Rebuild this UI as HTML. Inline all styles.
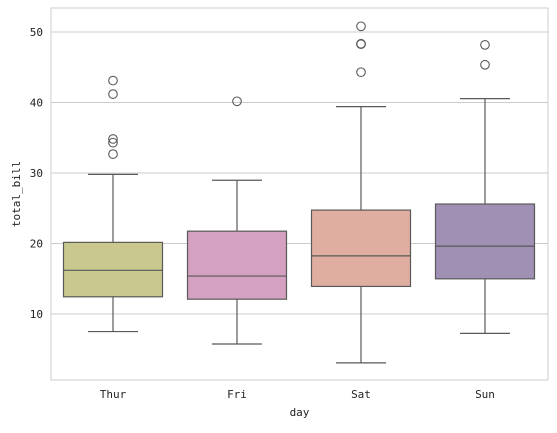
<!DOCTYPE html>
<html><head><meta charset="utf-8"><style>
body{margin:0;background:#fff}
svg text{font-family:"DejaVu Sans Mono","Liberation Mono",monospace;font-size:11px;fill:#222}
</style></head><body>
<svg id="chart" width="557" height="428"></svg>
<script>
const categories=["Thur","Fri","Sat","Sun"];
const mins=[7.51,5.75,3.07,7.25];
const q1s=[12.44,12.10,13.91,14.99];
const medians=[16.2,15.38,18.24,19.63];
const q3s=[20.16,21.75,24.74,25.60];
const maxs=[29.8,28.97,39.42,40.55];
const outliers=[[32.68,34.3,34.83,41.19,43.11],[40.17],[44.3,48.27,48.33,50.81],[45.35,48.17]];
const colors=["#c9c98f","#d4a2c0","#dfaea1","#a090b4"];
const yTicks=[10,20,30,40,50];
const L=51,R=548,T=8,B=380;
const y=v=>314-(v-10)*7.05;
const x=i=>113+i*124;
const NS="http://www.w3.org/2000/svg";
const svg=document.getElementById('chart');
function mk(t,a,parent){const e=document.createElementNS(NS,t);for(const k in a)e.setAttribute(k,a[k]);(parent||svg).appendChild(e);return e;}
yTicks.forEach(v=>{
 const g=mk('line',{x1:L,x2:R,y1:y(v),y2:y(v),stroke:'#cccccc','stroke-width':1});
 
 
 const t=mk('text',{x:L-8,y:y(v)+4,'text-anchor':'end'});t.textContent=v;
 
 
});
const frame=mk('rect',{x:L,y:T,width:R-L,height:B-T,fill:'none',stroke:'#cccccc'});


const ec='#595959',hw=49.5,cw=25;
categories.forEach((c,i)=>{
 const g=mk('g',{});
 
 
 const cx=x(i);
 mk('line',{x1:cx,x2:cx,y1:y(q1s[i]),y2:y(mins[i]),stroke:ec,'stroke-width':1.2},g);
 mk('line',{x1:cx,x2:cx,y1:y(q3s[i]),y2:y(maxs[i]),stroke:ec,'stroke-width':1.2},g);
 mk('line',{x1:cx-cw,x2:cx+cw,y1:y(mins[i]),y2:y(mins[i]),stroke:ec,'stroke-width':1.2},g);
 mk('line',{x1:cx-cw,x2:cx+cw,y1:y(maxs[i]),y2:y(maxs[i]),stroke:ec,'stroke-width':1.2},g);
 mk('rect',{x:cx-hw,y:y(q3s[i]),width:2*hw,height:y(q1s[i])-y(q3s[i]),fill:colors[i],stroke:ec,'stroke-width':1.2},g);
 mk('line',{x1:cx-hw,x2:cx+hw,y1:y(medians[i]),y2:y(medians[i]),stroke:ec,'stroke-width':1.2},g);
 outliers[i].forEach(v=>{
  const o=mk('circle',{cx:cx,cy:y(v),r:4.3,fill:'none',stroke:ec,'stroke-width':1.1},g);
  
  
 });
 const t=mk('text',{x:cx,y:B+18,'text-anchor':'middle'});t.textContent=c;
 
 
});
const xl=mk('text',{x:(L+R)/2,y:416,'text-anchor':'middle'});xl.textContent='day';


const yl=mk('text',{x:0,y:0,'text-anchor':'middle',transform:'translate(20,194) rotate(-90)'});yl.textContent='total_bill';


</script>
</body></html>
